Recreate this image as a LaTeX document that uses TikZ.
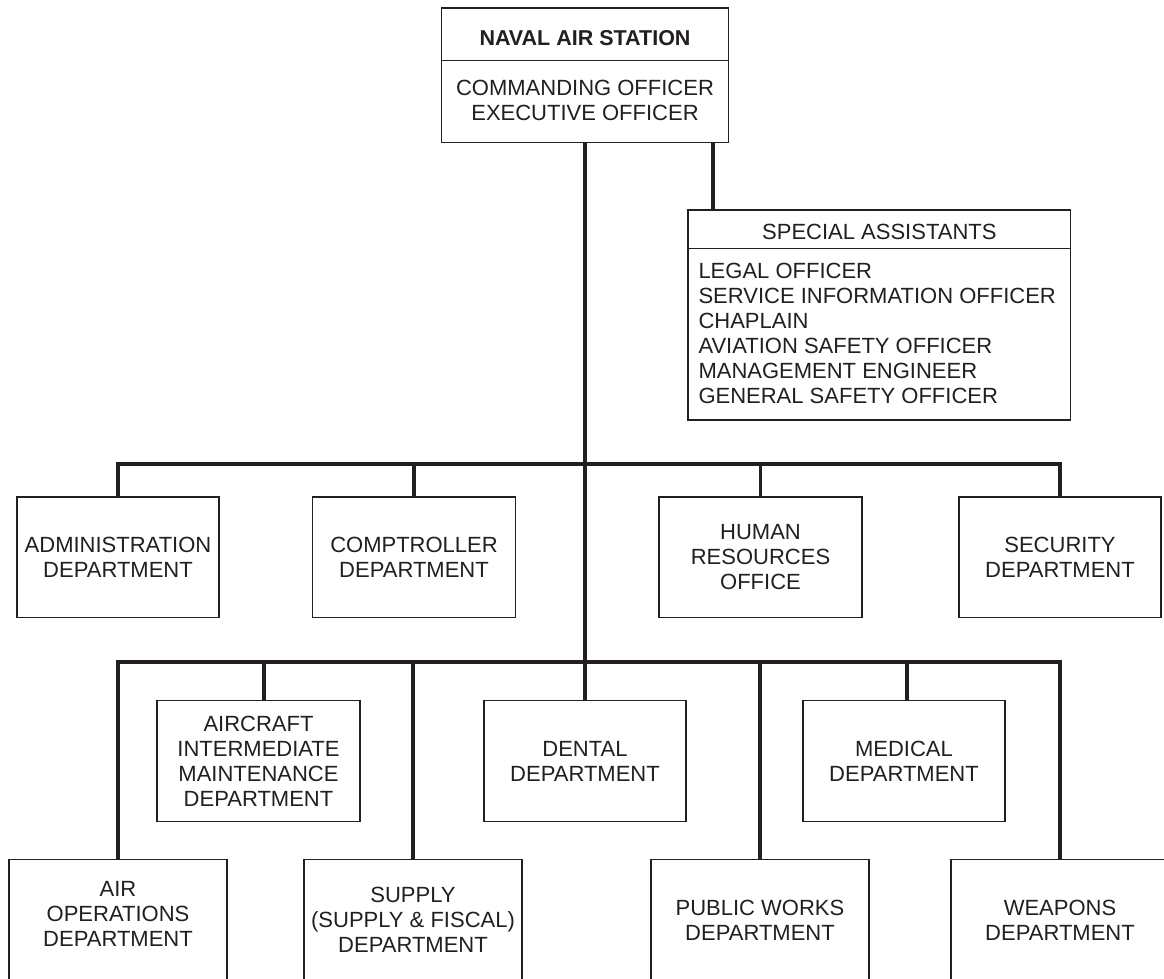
\documentclass[tikz,border=0pt]{standalone}
\usepackage{fontspec}
\setmainfont{Liberation Sans}
\definecolor{ink}{HTML}{231F20}
\tikzset{
  orgbox/.style={draw=ink, line width=1.4pt, inner sep=0pt, text=ink,
    font=\fontsize{22}{25}\selectfont, align=center},
  orgtxt/.style={inner sep=0pt, text=ink, font=\fontsize{22}{25}\selectfont, align=center},
  conn/.style={draw=ink, line width=3.6pt}
}
\begin{document}
\begin{tikzpicture}[x=1pt,y=-1pt]
\useasboundingbox (0,0) rectangle (1164,979);
\fill[white] (0,0) rectangle (1164,979);
\clip (0,0) rectangle (1164,979);

% top box
\node[orgbox, minimum width=286.6pt, minimum height=134.7pt] (nas) at (585,75.35) {};
\draw[ink, line width=1.4pt] ([yshift=-53pt]nas.north west) -- ([yshift=-53pt]nas.north east);
\node[orgtxt, font=\fontsize{21.5}{25}\selectfont\bfseries] (nastitle) at (585,38) {NAVAL AIR STATION};
\node[orgtxt] (nasbody) at (585,100.5) {COMMANDING OFFICER\\EXECUTIVE OFFICER};

% special assistants
\node[orgbox, minimum width=382.7pt, minimum height=210pt] (sa) at (879.35,315) {};
\draw[ink, line width=1.4pt] ([yshift=-39pt]sa.north west) -- ([yshift=-39pt]sa.north east);
\node[orgtxt] (satitle) at (879.35,231.5) {SPECIAL ASSISTANTS};
\node[orgtxt, align=left, anchor=west] (salist) at (698.3,333.4)
  {LEGAL OFFICER\\SERVICE INFORMATION OFFICER\\CHAPLAIN\\AVIATION SAFETY OFFICER\\MANAGEMENT ENGINEER\\GENERAL SAFETY OFFICER};

% row 1
\node[orgbox, minimum width=202pt, minimum height=120.7pt] (admin) at (118,557.35) {ADMINISTRATION\\DEPARTMENT};
\node[orgbox, minimum width=203pt, minimum height=120.7pt] (comp) at (414,557.35) {COMPTROLLER\\DEPARTMENT};
\node[orgbox, minimum width=203pt, minimum height=120.7pt] (hr) at (760.5,557.35) {HUMAN\\RESOURCES\\OFFICE};
\node[orgbox, minimum width=202pt, minimum height=120.7pt] (sec) at (1060,557.35) {SECURITY\\DEPARTMENT};

% row 2 (middle)
\node[orgbox, minimum width=203pt, minimum height=121pt] (aimd) at (258.5,761.2) {AIRCRAFT\\INTERMEDIATE\\MAINTENANCE\\DEPARTMENT};
\node[orgbox, minimum width=202.3pt, minimum height=121pt] (dental) at (585,761.2) {DENTAL\\DEPARTMENT};
\node[orgbox, minimum width=202.3pt, minimum height=121pt] (med) at (904,761.2) {MEDICAL\\DEPARTMENT};

% row 3 (bottom, cut off by the page edge)
\node[orgbox, minimum width=218pt, minimum height=130pt] (airops) at (118,924.3) {};
\node[orgbox, minimum width=218pt, minimum height=130pt] (supply) at (413,924.3) {};
\node[orgbox, minimum width=218pt, minimum height=130pt] (pw) at (760,924.3) {};
\node[orgbox, minimum width=218pt, minimum height=130pt] (weap) at (1060,924.3) {};
\node[orgtxt] (airopstxt) at (118,914) {AIR\\OPERATIONS\\DEPARTMENT};
\node[orgtxt] (supplytxt) at (413,920) {SUPPLY\\(SUPPLY \& FISCAL)\\DEPARTMENT};
\node[orgtxt] (pwtxt) at (760,920) {PUBLIC WORKS\\DEPARTMENT};
\node[orgtxt] (weaptxt) at (1060,920) {WEAPONS\\DEPARTMENT};

% bus coordinates
\coordinate (b1) at (585,464);
\coordinate (b2) at (585,662);

% connectors
\draw[conn] (nas.south) -- (dental.north);
\draw[conn] ([xshift=127.7pt]nas.south) -- ([xshift=127.7pt]nas.south |- sa.north);

\draw[conn] (admin.north) |- (b1) -| (sec.north);
\draw[conn] (comp.north) -- (comp.north |- b1);
\draw[conn] (hr.north) -- (hr.north |- b1);

\draw[conn] (airops.north) |- (b2) -| (weap.north);
\draw[conn] ([xshift=5.5pt]aimd.north) -- ([xshift=5.5pt]aimd.north |- b2);
\draw[conn] ([xshift=3pt]med.north) -- ([xshift=3pt]med.north |- b2);
\draw[conn] (supply.north) -- (supply.north |- b2);
\draw[conn] (pw.north) -- (pw.north |- b2);
\end{tikzpicture}
\end{document}
